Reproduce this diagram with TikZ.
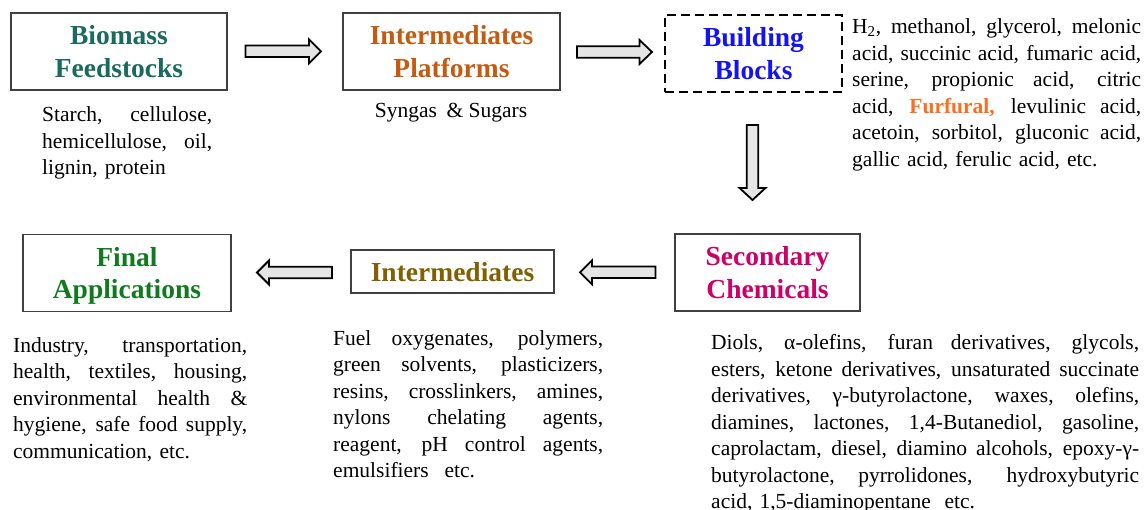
\documentclass[tikz,border=0pt]{standalone}
\usepackage{fontspec}
\setmainfont{Liberation Serif}
\usetikzlibrary{calc}
\definecolor{cbio}{RGB}{26,107,94}
\definecolor{cplat}{RGB}{197,90,17}
\definecolor{cbb}{RGB}{20,20,240}
\definecolor{cfur}{RGB}{250,110,30}
\definecolor{csec}{RGB}{204,0,102}
\definecolor{cfin}{RGB}{16,122,30}
\definecolor{cint}{RGB}{128,96,0}
\definecolor{boxline}{RGB}{64,64,64}
\newlength\jw
\newcommand\jl[1]{\leavevmode\hbox to \jw{\spaceskip=.25em plus 1fil\xspaceskip=.25em plus 1fil #1}\\}
\newcommand\harr[4]{\draw[barrow] (#1,#4-5.75) -- (#2,#4-5.75) -- (#2,#4-12) -- (#3,#4) -- (#2,#4+12) -- (#2,#4+5.75) -- (#1,#4+5.75) -- cycle;}
\newcommand\varr[4]{\draw[barrow] (#1-5.75,#2) -- (#1-5.75,#3) -- (#1-13,#3) -- (#1,#4) -- (#1+13,#3) -- (#1+5.75,#3) -- (#1+5.75,#2) -- cycle;}
\begin{document}
\begin{tikzpicture}[x=1pt,y=-1pt,
  box/.style={draw=boxline,line width=1.1pt,inner sep=0pt,align=center,text depth=0pt,font=\bfseries\fontsize{27.5}{32.5}\selectfont},
  desc/.style={inner sep=0pt,anchor=north west,align=left,font=\fontsize{21.5}{26.5}\selectfont},
  barrow/.style={draw=black,fill=black!10,line width=1.8pt,line join=miter}]
\useasboundingbox (0,0) rectangle (1148,510);
% boxes
\node[box,text=cbio,minimum width=216,minimum height=77] (bio) at (119,51.5) {Biomass\\Feedstocks};
\node[box,text=cplat,minimum width=217,minimum height=77] (plat) at (451.5,51.5) {Intermediates\\Platforms};
\node[box,draw=black,dash pattern=on 9pt off 5pt,line width=1.6pt,text=cbb,minimum width=177,minimum height=77] (bb) at (753.5,53.5) {Building\\Blocks};
\node[box,text=csec,minimum width=185,minimum height=77] (sec) at (767.5,272.5) {Secondary\\Chemicals};
\node[box,text=cfin,minimum width=208,minimum height=77] (fin) at (127,273) {Final\\Applications};
\node[box,text=cint,minimum width=203,minimum height=43] (int) at (452.5,271.5) {Intermediates};
% descriptions
\node[desc,text width=170] (biod) at (42,103) {\jw=170pt\leavevmode\strut\jl{Starch, cellulose,}\jl{hemicellulose, oil,}lignin, protein};
\node[font=\fontsize{21.5}{26.5}\selectfont,anchor=base,inner sep=0pt] (syn) at (451,118) {Syngas\hspace{0.45em}\& Sugars};
\node[desc,text width=289] (bbd) at (852,15) {\jw=289pt\leavevmode\strut\jl{H\textsubscript{2}, methanol, glycerol, melonic}\jl{acid, succinic acid, fumaric acid,}\jl{serine, propionic acid, citric}\jl{acid, \textcolor{cfur}{\textbf{Furfural,}} levulinic acid,}\jl{acetoin, sorbitol, gluconic acid,}gallic acid, ferulic acid, etc.};
\node[desc,text width=234] (find) at (13,333.5) {\jw=234pt\leavevmode\strut\jl{Industry, transportation,}\jl{health, textiles, housing,}\jl{environmental health \&}\jl{hygiene, safe food supply,}communication, etc.};
\node[desc,text width=270] (intd) at (333,326.5) {\jw=270pt\leavevmode\strut\jl{Fuel oxygenates, polymers,}\jl{green solvents, plasticizers,}\jl{resins, crosslinkers, amines,}\jl{nylons chelating agents,}\jl{reagent, pH control agents,}emulsifiers\hspace{0.4em} etc.};
\node[desc,text width=428] (secd) at (711,331) {\jw=428pt\leavevmode\strut\jl{Diols, α-olefins, furan derivatives, glycols,}\jl{esters, ketone derivatives, unsaturated succinate}\jl{derivatives, γ-butyrolactone, waxes, olefins,}\jl{diamines, lactones, 1,4-Butanediol, gasoline,}\jl{caprolactam, diesel, diamino alcohols, epoxy-γ-}\jl{butyrolactone, pyrrolidones,\hspace{0.5em} hydroxybutyric}acid, 1,5-diaminopentane\hspace{0.3em} etc.};
% block arrows
\harr{245.5}{309}{321}{51.3}
\harr{577}{639.5}{652}{52}
\varr{752.5}{125}{188}{200}
\harr{655.5}{592}{580}{272.3}
\harr{332}{269}{257}{272.5}
\end{tikzpicture}
\end{document}
